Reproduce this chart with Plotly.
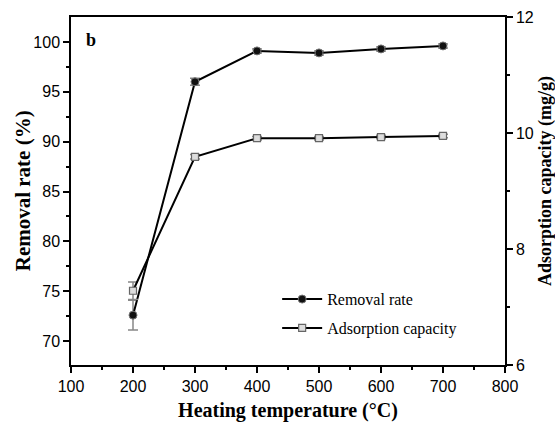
import plotly.graph_objects as go

# Heating temperature (°C)
temperature = [200, 300, 400, 500, 600, 700]

# Removal rate (%) with error
removal_rate = [72.6, 96.0, 99.1, 98.9, 99.3, 99.6]
removal_err = [1.5, 0.35, 0.2, 0.2, 0.2, 0.2]

# Adsorption capacity (mg/g) with error
adsorption_capacity = [7.28, 9.59, 9.91, 9.91, 9.93, 9.95]
adsorption_err = [0.15, 0.04, 0.03, 0.03, 0.03, 0.03]

serif = "Liberation Serif, Times New Roman, serif"
sans = "Liberation Sans, Arial, sans-serif"

fig = go.Figure()

fig.add_trace(go.Scatter(
    x=temperature, y=removal_rate, name="Removal rate",
    mode="lines+markers", legendgroup="r",
    line=dict(color="black", width=2),
    marker=dict(symbol="circle", size=8, color="#111111",
                line=dict(color="#777777", width=1)),
    error_y=dict(type="data", array=removal_err, color="#888888",
                 thickness=1.5, width=5),
    yaxis="y",
))

fig.add_trace(go.Scatter(
    x=temperature, y=adsorption_capacity, name="Adsorption capacity",
    mode="lines+markers", legendgroup="a",
    line=dict(color="black", width=2),
    marker=dict(symbol="square", size=7, color="#dddddd",
                line=dict(color="#666666", width=1.2)),
    error_y=dict(type="data", array=adsorption_err, color="#888888",
                 thickness=1.5, width=5),
    yaxis="y2",
))

tick_font = dict(family=sans, size=16, color="black")

fig.update_layout(
    width=555, height=422,
    margin=dict(l=71, r=50, t=17, b=57),
    paper_bgcolor="white", plot_bgcolor="white",
    showlegend=True,
    legend=dict(x=0.475, y=0.238, xanchor="left", yanchor="top",
                bgcolor="rgba(0,0,0,0)",
                font=dict(family=serif, size=16, color="black"),
                itemwidth=40, tracegroupgap=5),
    xaxis=dict(
        range=[100, 800], tickmode="array",
        tickvals=[100, 200, 300, 400, 500, 600, 700, 800],
        showline=True, linecolor="black", linewidth=1.5, mirror=True,
        ticks="outside", ticklen=6, tickwidth=1.5, tickcolor="black",
        minor=dict(tickvals=[150, 250, 350, 450, 550, 650, 750],
                   ticks="outside", ticklen=3, tickwidth=1.5, tickcolor="black"),
        showgrid=False, zeroline=False, automargin=False,
        tickfont=tick_font,
        title=dict(text="<b>Heating temperature (°C)</b>",
                   font=dict(family=serif, size=20, color="black"), standoff=10),
    ),
    yaxis=dict(
        range=[67.6, 102.5], tickmode="array",
        tickvals=[70, 75, 80, 85, 90, 95, 100],
        showline=True, linecolor="black", linewidth=1.5,
        ticks="outside", ticklen=6, tickwidth=1.5, tickcolor="black",
        minor=dict(tickvals=[72.5, 77.5, 82.5, 87.5, 92.5, 97.5],
                   ticks="outside", ticklen=3, tickwidth=1.5, tickcolor="black"),
        showgrid=False, zeroline=False, automargin=False,
        tickfont=tick_font,
    ),
    yaxis2=dict(
        overlaying="y", side="right", anchor="x",
        range=[6, 12], tickmode="array", tickvals=[6, 8, 10, 12],
        showline=True, linecolor="black", linewidth=1.5,
        ticks="outside", ticklen=6, tickwidth=1.5, tickcolor="black",
        minor=dict(tickvals=[7, 9, 11],
                   ticks="outside", ticklen=3, tickwidth=1.5, tickcolor="black"),
        showgrid=False, zeroline=False, automargin=False,
        tickfont=tick_font,
    ),
    annotations=[
        dict(text="<b>b</b>", xref="paper", yref="paper", x=0.031, y=0.935,
             xanchor="left", yanchor="middle", showarrow=False,
             font=dict(family=serif, size=18, color="black")),
        dict(text="<b>Removal rate (%)</b>", xref="paper", yref="paper",
             x=-0.11, y=0.5, xanchor="center", yanchor="middle",
             textangle=-90, showarrow=False,
             font=dict(family=serif, size=21, color="black")),
        dict(text="<b>Adsorption capacity (mg/g)</b>", xref="paper", yref="paper",
             x=1.093, y=0.53, xanchor="center", yanchor="middle",
             textangle=-90, showarrow=False,
             font=dict(family=serif, size=18, color="black")),
    ],
)

fig.write_html("out.html")
